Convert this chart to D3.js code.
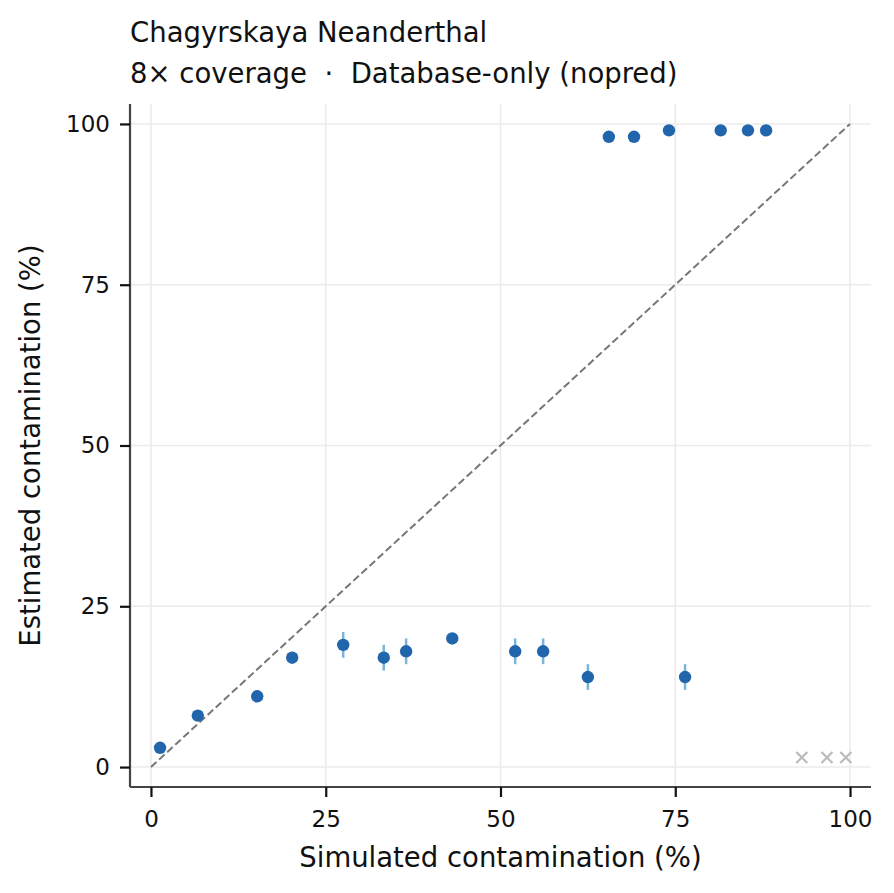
<!DOCTYPE html>
<html><head><meta charset="utf-8">
<script src="https://cdn.jsdelivr.net/npm/d3@7"></script>
<style>body{margin:0;background:#fff;} text{font-family:"DejaVu Sans",sans-serif;}</style>
</head><body>
<svg id="c" width="894" height="893"></svg>
<script>
const simulated = [1.3, 6.7, 15.2, 20.2, 27.5, 33.3, 36.5, 43.1, 52.1, 56.1, 62.5, 76.4, 65.5, 69.1, 74.1, 81.5, 85.4, 88.0];
const estimated = [3, 8, 11, 17, 19, 17, 18, 20, 18, 18, 14, 14, 98, 98, 99, 99, 99, 99];
const errLow    = [2.5, 7.5, 10.5, 16.5, 17, 15, 16, 19.5, 16, 16, 12, 12, 98, 98, 99, 99, 99, 99];
const errHigh   = [3.5, 8.5, 11.5, 17.5, 21, 19, 20, 20.5, 20, 20, 16, 16, 98, 98, 99, 99, 99, 99];
const failedX = [93.1, 96.7, 99.4];
const failedY = [1.5, 1.5, 1.5];
const ticks = [0, 25, 50, 75, 100];

const svg = d3.select("#c");
const L = 130, R = 871, T = 104, B = 787;
const x = d3.scaleLinear().domain([-3, 103]).range([L, R]);
const y = d3.scaleLinear().domain([-3.1, 103.1]).range([B, T]);
const FS = 27.5;

// grid
const g = svg.append("g");
g.selectAll(".gx").data(ticks).join("line")
  .attr("x1", d => x(d)).attr("x2", d => x(d)).attr("y1", T).attr("y2", B)
  .attr("stroke", "#ebebeb").attr("stroke-width", 1.5);
g.selectAll(".gy").data(ticks).join("line")
  .attr("y1", d => y(d)).attr("y2", d => y(d)).attr("x1", L).attr("x2", R)
  .attr("stroke", "#ebebeb").attr("stroke-width", 1.5);

// diagonal
svg.append("line").attr("x1", x(0)).attr("y1", y(0)).attr("x2", x(100)).attr("y2", y(100))
  .attr("stroke", "#777").attr("stroke-width", 2).attr("stroke-dasharray", "7.5,3.5");

const idx = d3.range(simulated.length);
// error bars
svg.append("g").selectAll("line").data(idx.filter(i => errHigh[i] - errLow[i] > 0)).join("line")
  .attr("x1", i => x(simulated[i])).attr("x2", i => x(simulated[i]))
  .attr("y1", i => y(errLow[i])).attr("y2", i => y(errHigh[i]))
  .attr("stroke", "#6baed6").attr("stroke-width", 2.5).attr("opacity", 0.9);
// points
svg.append("g").selectAll("circle").data(idx).join("circle")
  .attr("cx", i => x(simulated[i])).attr("cy", i => y(estimated[i])).attr("r", 6.2)
  .attr("fill", "#2166ac");

// failed markers
const fx = svg.append("g");
failedX.forEach((d, i) => {
  const cx = x(d), cy = y(failedY[i]), s = 5.5;
  fx.append("path").attr("d", `M${cx-s},${cy-s}L${cx+s},${cy+s}M${cx-s},${cy+s}L${cx+s},${cy-s}`)
    .attr("stroke", "#bbbbbb").attr("stroke-width", 2.2).attr("fill", "none");
});

// axes
const xa = svg.append("g").attr("transform", `translate(0,${B})`)
  .call(d3.axisBottom(x).tickValues(ticks).tickSize(10).tickPadding(14));
const ya = svg.append("g").attr("transform", `translate(${L},0)`)
  .call(d3.axisLeft(y).tickValues(ticks).tickSize(10).tickPadding(10));
[xa, ya].forEach(a => {
  a.select(".domain").attr("stroke", "#444").attr("stroke-width", 2.2);
  a.selectAll(".tick line").attr("stroke", "#111").attr("stroke-width", 2.2);
  a.selectAll(".tick text").attr("font-size", 23).attr("fill", "#111").attr("font-family", "DejaVu Sans");
});
xa.select(".domain").attr("d", `M${L},0H${R}`);
ya.select(".domain").attr("d", `M0,${T}V${B}`);

// labels
svg.append("text").attr("x", (L + R) / 2).attr("y", 867).attr("text-anchor", "middle")
  .attr("font-size", FS).attr("fill", "#111").text("Simulated contamination (%)");
svg.append("text").attr("transform", `translate(40,${(T + B) / 2}) rotate(-90)`).attr("text-anchor", "middle")
  .attr("font-size", FS).attr("fill", "#111").text("Estimated contamination (%)");
svg.append("text").attr("x", L).attr("y", 42).attr("font-size", FS).attr("fill", "#111")
  .text("Chagyrskaya Neanderthal");
svg.append("text").attr("x", L).attr("y", 83).attr("font-size", FS).attr("fill", "#111")
  .style("white-space", "pre").text("8× coverage  ·  Database-only (nopred)");
</script>
</body></html>
